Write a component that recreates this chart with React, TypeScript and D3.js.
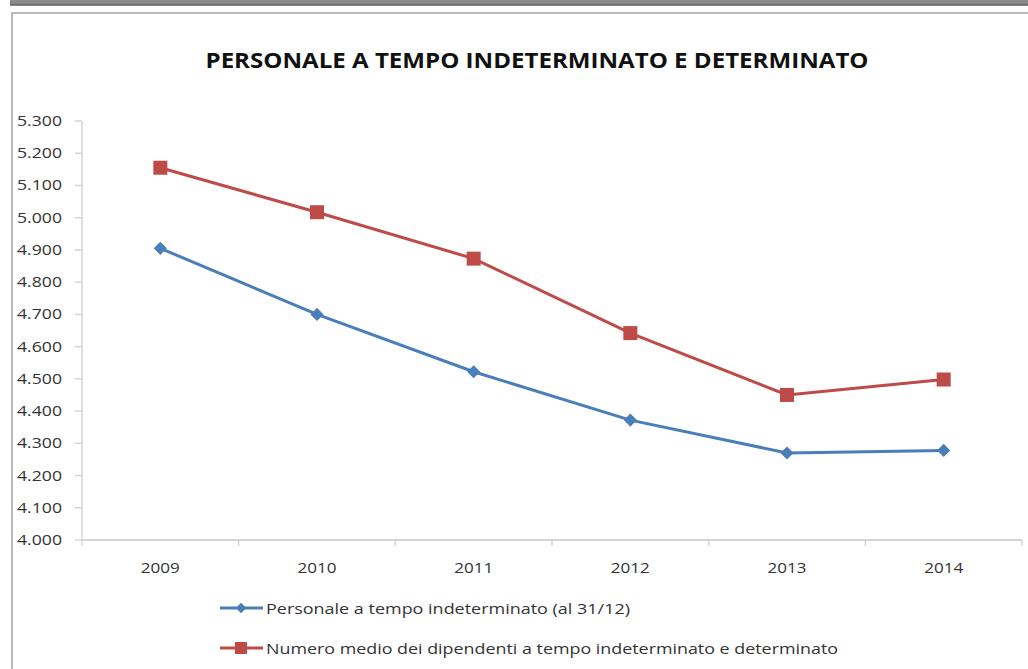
import React from "react";
import * as d3 from "d3";

const years = ["2009", "2010", "2011", "2012", "2013", "2014"];
const indeterminato = [4905, 4700, 4522, 4372, 4270, 4278];
const medio = [5155, 5017, 4873, 4642, 4450, 4498];
const yTicks = [4000, 4100, 4200, 4300, 4400, 4500, 4600, 4700, 4800, 4900, 5000, 5100, 5200, 5300];
const seriesNames = [
  "Personale a tempo indeterminato (al 31/12)",
  "Numero medio dei dipendenti a tempo indeterminato e determinato",
];
const title = "PERSONALE A TEMPO INDETERMINATO E DETERMINATO";

const BLUE = "#4a7ebb";
const RED = "#be4b48";
const FONT = "'Open Sans', 'Liberation Sans', sans-serif";

const fmt = (v: number) => d3.format(",")(v).replace(",", ".");

export default function App() {
  const W = 1028, H = 669;
  const x0 = 82, x1 = 1022, yTop = 121, yBot = 540;
  const x = d3.scaleBand<string>().domain(years).range([x0, x1]);
  const y = d3.scaleLinear().domain([4000, 5300]).range([yBot, yTop]);
  const line = d3.line<number>().x((_, i) => x(years[i])! + x.bandwidth() / 2).y((d) => y(d));
  const boundaries = d3.range(years.length + 1).map((i) => x0 + i * x.step());

  const diamond = d3.symbol().type(d3.symbolDiamond2).size(110)();

  return (
    <svg width={W} height={H} style={{ position: "absolute", left: 0, top: 0 }}>
      <rect x={0} y={0} width={W} height={H} fill="#fff" />
      {/* frame */}
      <rect x={10} y={0} width={W - 10} height={5} fill="#8a8a8a" />
      <line x1={10} x2={W} y1={5} y2={5} stroke="#5f5f5f" strokeWidth={1.5} />
      <line x1={12} x2={W} y1={13} y2={13} stroke="#b9b9b9" strokeWidth={2} />
      <line x1={12} x2={12} y1={12} y2={H} stroke="#b9b9b9" strokeWidth={2} />

      <text x={537} y={68} textAnchor="middle" fontFamily={FONT} fontWeight="bold" fontSize={21}
        textLength={663} lengthAdjust="spacingAndGlyphs" fill="#111">{title}</text>

      {/* axes */}
      <line x1={x0} x2={x0} y1={yTop} y2={yBot} stroke="#d4d4d4" strokeWidth={1.5} />
      <line x1={x0} x2={x1} y1={yBot} y2={yBot} stroke="#d4d4d4" strokeWidth={2} />
      {yTicks.map((t) => (
        <g key={t}>
          <line x1={x0 - 7} x2={x0} y1={y(t)} y2={y(t)} stroke="#d4d4d4" strokeWidth={1.5} />
          <text x={62} y={y(t) + 5} textAnchor="end" fontFamily={FONT} fontSize={15} fill="#333"
            textLength={45} lengthAdjust="spacingAndGlyphs">{fmt(t)}</text>
        </g>
      ))}
      {boundaries.map((b, i) => (
        <line key={i} x1={b} x2={b} y1={yBot} y2={yBot + 6} stroke="#d4d4d4" strokeWidth={1.5} />
      ))}
      {years.map((yr) => (
        <text key={yr} x={x(yr)! + x.bandwidth() / 2} y={573} textAnchor="middle" fontFamily={FONT} fontSize={15} fill="#333"
          textLength={39} lengthAdjust="spacingAndGlyphs">{yr}</text>
      ))}

      {/* series */}
      <path d={line(medio)!} fill="none" stroke={RED} strokeWidth={3} />
      <path d={line(indeterminato)!} fill="none" stroke={BLUE} strokeWidth={3} />
      {medio.map((v, i) => (
        <rect key={i} x={x(years[i])! + x.bandwidth() / 2 - 7} y={y(v) - 7} width={14} height={14} fill={RED} />
      ))}
      {indeterminato.map((v, i) => (
        <path key={i} d={diamond!} transform={`translate(${x(years[i])! + x.bandwidth() / 2},${y(v)})`} fill={BLUE} />
      ))}

      {/* legend */}
      <line x1={220} x2={263} y1={608} y2={608} stroke={BLUE} strokeWidth={3} />
      <path d={diamond!} transform="translate(241,608) scale(0.8)" fill={BLUE} />
      <text x={266} y={614} fontFamily={FONT} fontSize={15} fill="#333" textLength={364} lengthAdjust="spacingAndGlyphs">{seriesNames[0]}</text>
      <line x1={220} x2={263} y1={648} y2={648} stroke={RED} strokeWidth={3} />
      <rect x={235} y={642} width={12} height={12} fill={RED} />
      <text x={266} y={654} fontFamily={FONT} fontSize={15} fill="#333" textLength={572} lengthAdjust="spacingAndGlyphs">{seriesNames[1]}</text>
    </svg>
  );
}
